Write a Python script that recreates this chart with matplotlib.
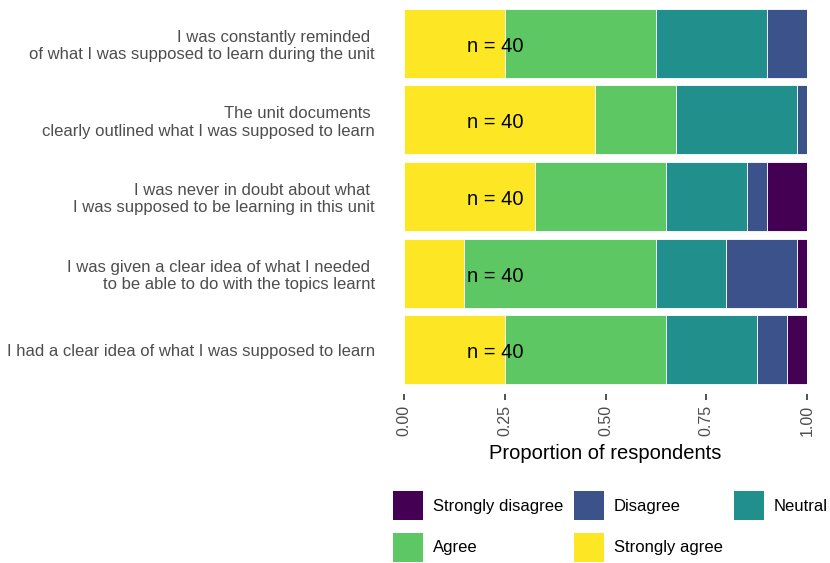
import matplotlib
matplotlib.use("Agg")
import matplotlib.pyplot as plt
import matplotlib.transforms as mtransforms
from matplotlib.patches import Patch
import numpy as np

plt.rcParams['font.family'] = ['Liberation Sans', 'DejaVu Sans']

questions = [
    "I was constantly reminded \nof what I was supposed to learn during the unit",
    "The unit documents \nclearly outlined what I was supposed to learn",
    "I was never in doubt about what \nI was supposed to be learning in this unit",
    "I was given a clear idea of what I needed \nto be able to do with the topics learnt",
    "I had a clear idea of what I was supposed to learn",
]
levels = ["Strongly agree", "Agree", "Neutral", "Disagree", "Strongly disagree"]
colors = {"Strongly disagree": "#440154", "Disagree": "#3B528B", "Neutral": "#21908C",
          "Agree": "#5DC863", "Strongly agree": "#FDE725"}
# counts per question (out of 40), in order of levels
strongly_agree = [10, 19, 13, 6, 10]
agree = [15, 8, 13, 19, 16]
neutral = [11, 12, 8, 7, 9]
disagree = [4, 1, 2, 7, 3]
strongly_disagree = [0, 0, 4, 1, 2]
n_resp = [40, 40, 40, 40, 40]
xticks = [0.0, 0.25, 0.5, 0.75, 1.0]
xticklabels = ["0.00", "0.25", "0.50", "0.75", "1.00"]

fig = plt.figure(figsize=(8.3, 5.63), dpi=100)
ax = fig.add_axes([404/830, (563-388)/563, 403/830, 383/563])
for s in ax.spines.values():
    s.set_visible(False)
ax.spines['bottom'].set_position(('outward', 4))

data = [strongly_agree, agree, neutral, disagree, strongly_disagree]
y = np.arange(len(questions))
left = np.zeros(len(questions))
n = np.array(n_resp, dtype=float)
for lev, vals in zip(levels, data):
    p = np.array(vals) / n
    ax.barh(y, p, left=left, height=0.9, color=colors[lev], edgecolor='white', linewidth=0.6)
    left += p

txt_trans = mtransforms.offset_copy(ax.transData, fig=fig, x=0, y=-3, units='dots')
for yi, nn in zip(y, n_resp):
    ax.text(0.226, yi, f"n = {nn}", ha='center', va='center', fontsize=14.5, color='black',
            transform=txt_trans)

ax.set_ylim(len(questions) - 0.5, -0.5)
ax.set_xlim(0, 1)
ax.set_yticks(y)
ax.set_yticklabels(questions, fontsize=12, color='#4D4D4D')
ax.tick_params(axis='y', length=0, pad=21)
ax.set_xticks(xticks)
ax.set_xticklabels(xticklabels, rotation=90, fontsize=11.5, color='#4D4D4D')
ax.tick_params(axis='x', length=4, width=1.2, color='#333333', pad=4, direction='out')
ax.set_xlabel("Proportion of respondents", fontsize=14.5, labelpad=6)

order = ["Strongly disagree", "Agree", "Disagree", "Strongly agree", "Neutral"]
handles = [Patch(facecolor=colors[o], edgecolor='none', label=o) for o in order]
fig.legend(handles=handles, ncol=3, loc='upper left', bbox_to_anchor=(393/830, 1 - 491/563),
           frameon=False, fontsize=12, handlelength=1.8, handleheight=2.3,
           handletextpad=0.6, columnspacing=0.65, labelspacing=0.75, borderaxespad=0, borderpad=0)

fig.savefig("out.png", dpi=100)
